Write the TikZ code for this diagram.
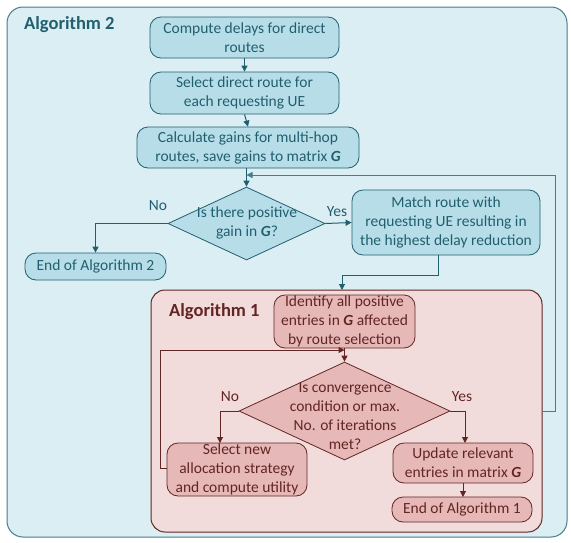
\documentclass[tikz,border=0pt]{standalone}
\usepackage{fontspec}
\setmainfont{Carlito}
\usetikzlibrary{arrows.meta,shapes.geometric}
\definecolor{bgblue}{HTML}{DAEEF3}
\definecolor{boxblue}{HTML}{B7DEE8}
\definecolor{lineblue}{HTML}{215F6F}
\definecolor{frameblue}{HTML}{3F7F8E}
\definecolor{bgred}{HTML}{F2DCDB}
\definecolor{boxred}{HTML}{E6B9B8}
\definecolor{linered}{HTML}{632523}
\newcommand{\Gm}{\textbf{\textit{G}}}
\tikzset{
  txt/.style={font=\fontsize{15.5}{19}\selectfont},
  bbox/.style={draw=lineblue, fill=boxblue, rounded corners=11pt, line width=0.8pt, text=lineblue, align=center, inner sep=0pt, txt},
  rbox/.style={draw=linered, fill=boxred, rounded corners=11pt, line width=0.8pt, text=linered, align=center, inner sep=0pt, txt},
  bdia/.style={draw=lineblue, fill=boxblue, diamond, line width=0.8pt, inner sep=0pt},
  rdia/.style={draw=linered, fill=boxred, diamond, line width=0.8pt, inner sep=0pt},
  barr/.style={draw=lineblue, line width=1pt, -{Triangle[length=6pt,width=6pt]}},
  rarr/.style={draw=linered, line width=1pt, -{Triangle[length=6pt,width=6pt]}},
  blab/.style={text=lineblue, txt, inner sep=0pt},
  rlab/.style={text=linered, txt, inner sep=0pt},
}
\begin{document}
\begin{tikzpicture}[x=1pt,y=-1pt]
\useasboundingbox (0,0) rectangle (571,542);
% outer Algorithm 2 frame
\node[draw=frameblue, fill=bgblue, rounded corners=16pt, line width=1pt, minimum width=560pt, minimum height=530pt, inner sep=0pt] (alg2) at (287,272) {};
\node[text=lineblue, font=\fontsize{18.5}{22}\selectfont\bfseries, anchor=west, inner sep=0pt] (t2) at (24,25) {Algorithm 2};
% Algorithm 2 nodes
\node[bbox, minimum width=189pt, minimum height=41pt] (b1) at (244.5,37.5) {Compute delays for direct\\routes};
\node[bbox, minimum width=189pt, minimum height=42pt] (b2) at (244.5,93) {Select direct route for\\each requesting UE};
\node[bbox, minimum width=222pt, minimum height=41pt] (b3) at (248,147.5) {Calculate gains for multi-hop\\routes, save gains to matrix \Gm};
\node[bdia, minimum width=157pt, minimum height=73pt] (d1) at (246.5,223.5) {};
\node[blab, align=center] (d1t) at (247,223) {Is there positive\\gain in \Gm?};
\node[bbox, minimum width=141pt, minimum height=27pt] (e2) at (95.5,266.5) {End of Algorithm 2};
\node[bbox, minimum width=188pt, minimum height=65pt] (b4) at (446,222.5) {Match route with\\requesting UE resulting in\\the highest delay reduction};
% Algorithm 1 frame
\node[draw=linered, fill=bgred, rounded corners=14pt, line width=1pt, minimum width=391pt, minimum height=242pt, inner sep=0pt] (alg1) at (346.5,411) {};
\node[text=linered, font=\fontsize{18.5}{22}\selectfont\bfseries, anchor=west, inner sep=0pt] (t1) at (169,312) {Algorithm 1};
\node[rbox, minimum width=141pt, minimum height=53pt] (i1) at (344.5,321.5) {Identify all positive\\entries in \Gm{} affected\\by route selection};
\node[rdia, minimum width=211pt, minimum height=98pt] (d2) at (344.5,411) {};
\node[rlab, align=center] (d2t) at (345,416.5) {Is convergence\\condition or max.\\No. of iterations\\met?};
\node[rbox, minimum width=140pt, minimum height=53pt] (s1) at (237,469.5) {Select new\\allocation strategy\\and compute utility};
\node[rbox, minimum width=140pt, minimum height=40pt] (u1) at (463,463) {Update relevant\\entries in matrix \Gm};
\node[rbox, minimum width=140pt, minimum height=25pt] (e1) at (462,509.5) {End of Algorithm 1};
% helper coordinates
\coordinate (j1) at (246.5,175);
\coordinate (j2) at (344.5,350);
\coordinate (b4b) at (438,255);
\coordinate (c1) at (438,275);
\coordinate (c2) at (342,275);
\coordinate (a1top) at (342,290);
\coordinate (c3) at (555,175);
\coordinate (s1l) at (167,468);
\coordinate (c4) at (160,350);
\coordinate (s1t) at (220,443);
\coordinate (u1t) at (465,443);
\coordinate (u1b) at (463,483);
\coordinate (e1t) at (463,497);
% Algorithm 2 connectors
\draw[barr] (b1.south) -- (b2.north);
\draw[barr] (b2.south) -- (b3.north);
\draw[barr] (b3.south -| d1.north) -- (d1.north);
\draw[barr] (d1.west) -| (e2.north);
\node[blab] (no1) at (158,206) {No};
\draw[barr] (d1.east) -- (b4.west);
\node[blab] (yes1) at (337,212) {Yes};
\draw[barr] (b4b) -- (c1) -- (c2) -- (a1top);
\draw[barr, draw=frameblue] (alg1.east) -| (c3) -- (j1);
% Algorithm 1 connectors
\draw[rarr] (i1.south) -- (d2.north);
\draw[rarr] (s1l) -| (c4) -- (j2);
\draw[rarr] (d2.west) -| (s1t);
\node[rlab] (no2) at (230,397) {No};
\draw[rarr] (d2.east) -| (u1t);
\node[rlab] (yes2) at (462,397) {Yes};
\draw[rarr] (u1b) -- (e1t);
\end{tikzpicture}
\end{document}
